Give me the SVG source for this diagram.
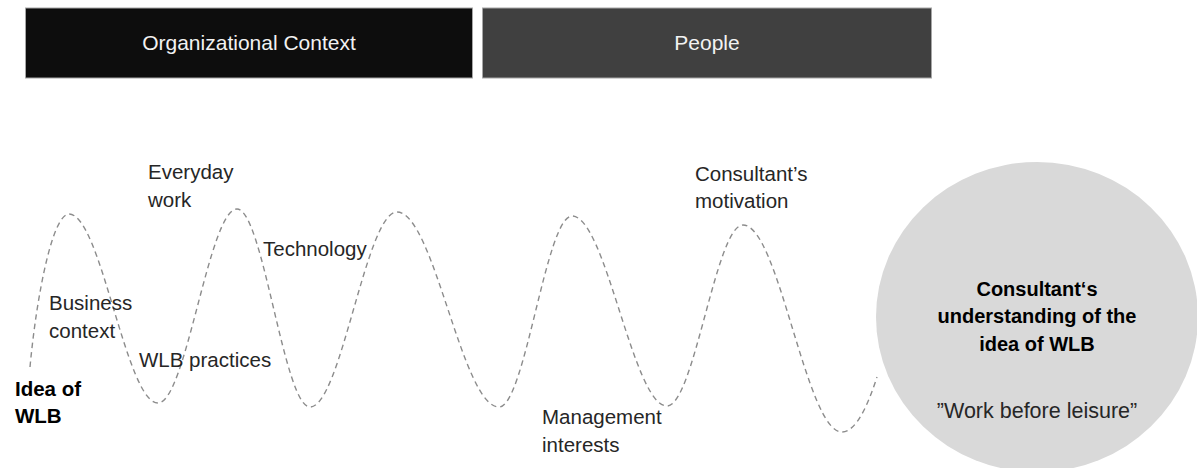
<svg xmlns="http://www.w3.org/2000/svg" width="1197" height="468" viewBox="0 0 1197 468">
<style>
.lbl{font-family:"Liberation Sans",Arial,sans-serif;font-size:20.5px;fill:#262626}
.bold{font-weight:bold;fill:#000}
.hdr{font-family:"Liberation Sans",Arial,sans-serif;font-size:21px;fill:#f2f2f2;text-anchor:middle}
.wave{fill:none;stroke:#8c8c8c;stroke-width:1.4;stroke-dasharray:5.5 4}
</style>
<rect width="1197" height="468" fill="#fff"/>
<g id="org-context">
<rect x="25.5" y="8" width="447" height="70" fill="#0d0d0d" stroke="#a6a6a6" stroke-width="1"/>
<text class="hdr" x="249" y="50">Organizational Context</text>
</g>
<g id="people">
<rect x="482.5" y="8" width="449" height="70" fill="#404040" stroke="#a6a6a6" stroke-width="1"/>
<text class="hdr" x="707" y="50">People</text>
</g>
<g id="connectors">
<path class="wave" d="M30,367 C37,292 53,214 69,214 C101,214 126,403 158,403 C186,403 209,209 237,209 C263,209 284,407 310,407 C341,407 366,212 397,212 C434,212 462,407 499,407 C525,407 546,216 572,216 C606,216 633,406 667,406 C694,406 716,225 743,225 C779,225 806,432 842,432 C856,432 868,405 877,377"/>
</g>
<g id="idea-of-wlb">
<text class="lbl bold" x="15" y="396">Idea of</text>
<text class="lbl bold" x="15" y="423">WLB</text>
</g>
<g id="business-context">
<text class="lbl" x="49" y="310">Business</text>
<text class="lbl" x="49" y="338">context</text>
</g>
<g id="everyday-work">
<text class="lbl" x="148" y="179">Everyday</text>
<text class="lbl" x="148" y="207">work</text>
</g>
<g id="wlb-practices">
<text class="lbl" x="139" y="367">WLB practices</text>
</g>
<g id="technology">
<text class="lbl" x="263" y="256">Technology</text>
</g>
<g id="management-interests">
<text class="lbl" x="542" y="424">Management</text>
<text class="lbl" x="542" y="452">interests</text>
</g>
<g id="consultants-motivation">
<text class="lbl" x="695" y="181">Consultant’s</text>
<text class="lbl" x="695" y="208">motivation</text>
</g>
<g id="understanding">
<ellipse cx="1037" cy="317" rx="161" ry="155" fill="#d9d9d9"/>
<text class="lbl bold" x="1037" y="296" text-anchor="middle" style="font-size:20px">Consultant‘s</text>
<text class="lbl bold" x="1037" y="323" text-anchor="middle" style="font-size:20px">understanding of the</text>
<text class="lbl bold" x="1037" y="351" text-anchor="middle" style="font-size:20px">idea of WLB</text>
<text class="lbl" x="1037" y="418" text-anchor="middle" style="font-size:21.5px">”Work before leisure”</text>
</g>
</svg>
